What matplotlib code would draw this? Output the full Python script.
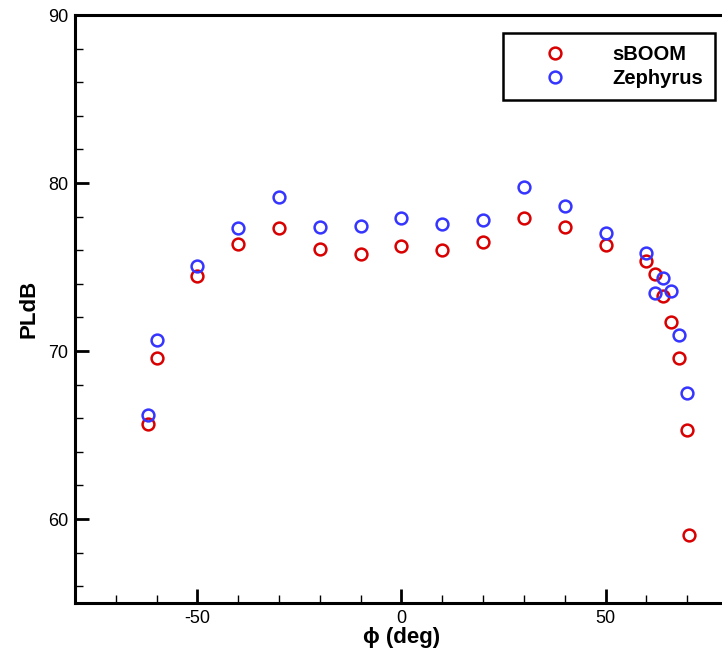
import matplotlib
matplotlib.use("Agg")
import matplotlib.pyplot as plt
from matplotlib.ticker import MultipleLocator

phi_sboom = [-62, -60, -50, -40, -30, -20, -10, 0, 10, 20, 30, 40, 50, 60, 62, 64, 66, 68, 70, 70.5]
pldb_sboom = [65.65, 69.58, 74.46, 76.37, 77.32, 76.07, 75.77, 76.25, 76.0, 76.49, 77.92, 77.38, 76.31,
              75.37, 74.58, 73.3, 71.74, 69.6, 65.3, 59.03]
phi_zeph = [-62, -60, -50, -40, -30, -20, -10, 0, 10, 20, 30, 40, 50, 60, 62, 64, 66, 68, 70]
pldb_zeph = [66.19, 70.65, 75.06, 77.32, 79.17, 77.38, 77.44, 77.92, 77.56, 77.8, 79.76, 78.63, 77.02,
             75.85, 73.45, 74.36, 73.55, 70.95, 67.5]

plt.rcParams['font.family'] = ['Liberation Sans', 'DejaVu Sans']
plt.rcParams['axes.unicode_minus'] = False

fig = plt.figure(figsize=(7.22, 6.56), dpi=100)
W, H = 722, 656
ax = fig.add_axes([75 / W, (H - 603) / H, (728 - 75) / W, (603 - 15) / H])

ax.plot(phi_sboom, pldb_sboom, linestyle='none', marker='o', ms=8.5, mfc='none',
        mec='#d80000', mew=1.8, label='sBOOM')
ax.plot(phi_zeph, pldb_zeph, linestyle='none', marker='o', ms=8.5, mfc='none',
        mec='#3535ff', mew=1.8, label='Zephyrus')

ax.set_xlim(-80, 80)
ax.set_ylim(55, 90)
ax.xaxis.set_major_locator(MultipleLocator(50))
ax.xaxis.set_minor_locator(MultipleLocator(10))
ax.yaxis.set_major_locator(MultipleLocator(10))
ax.yaxis.set_minor_locator(MultipleLocator(2))
ax.tick_params(which='both', direction='in', top=False, right=False, labelsize=13, pad=5)
ax.tick_params(which='major', length=10, width=2)
ax.tick_params(which='minor', length=6, width=1)
for s in ax.spines.values():
    s.set_linewidth(2.2)

ax.set_xlabel('\u03d5 (deg)', fontsize=16, fontweight='bold', labelpad=0)
ax.set_ylabel('PLdB', fontsize=16, fontweight='bold', labelpad=6)

leg = ax.legend(loc='upper right', bbox_to_anchor=((715 - 75) / (728 - 75), (603 - 33) / 588),
                borderaxespad=0, fancybox=False, framealpha=1, edgecolor='black',
                handletextpad=0.9, borderpad=0.6, labelspacing=0.25, handlelength=3.9,
                prop={'weight': 'bold', 'size': 14.5})
leg.get_frame().set_linewidth(1.8)

fig.savefig('out.png', dpi=100)
